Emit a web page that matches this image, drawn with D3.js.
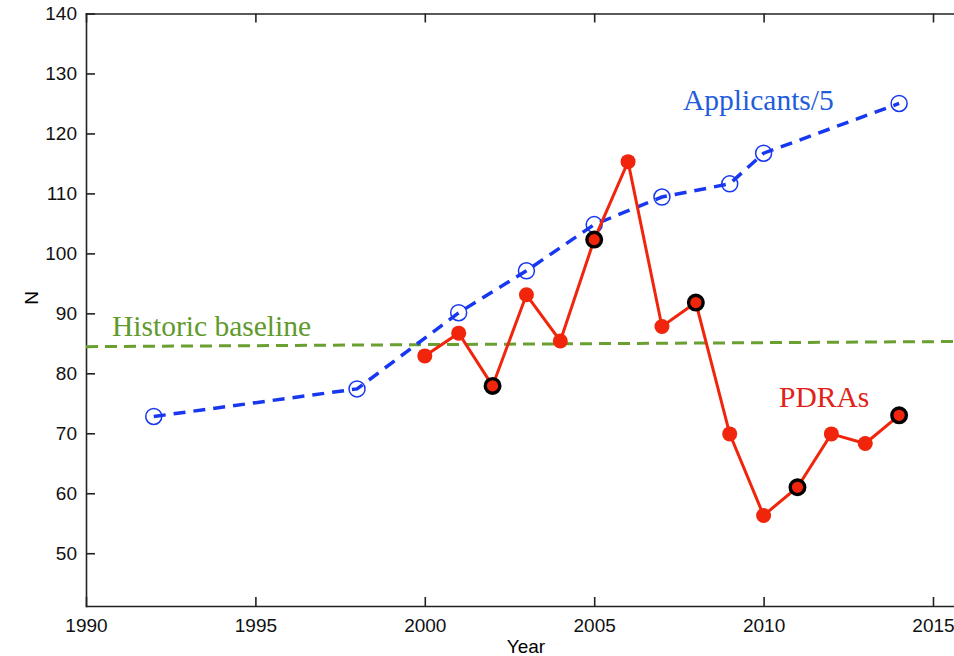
<!DOCTYPE html>
<html>
<head>
<meta charset="utf-8">
<script src="https://cdn.jsdelivr.net/npm/d3@7"></script>
<style>
  body { margin: 0; background: #fff; }
  .axis text { font-family: "Liberation Sans", Arial, sans-serif; font-size: 19px; fill: #111; }
  .axis path, .axis line { stroke: #222; stroke-width: 1.6; }
  .note { font-family: "Liberation Serif", "Times New Roman", serif; font-size: 29.5px; }
</style>
</head>
<body>
<div id="container"></div>
<script>
const width = 954;
const height = 656;

// Applicants divided by 5
const applicantYears = [1992, 1998, 2001, 2003, 2005, 2007, 2009, 2010, 2014];
const applicantValues = [72.8, 77.4, 90.1, 97.1, 104.8, 109.4, 111.6, 116.7, 125.0];

// PDRAs
const pdraYears = [2000, 2001, 2002, 2003, 2004, 2005, 2006, 2007, 2008, 2009, 2010, 2011, 2012, 2013, 2014];
const pdraValues = [82.9, 86.7, 77.9, 93.1, 85.4, 102.3, 115.3, 87.8, 91.8, 69.9, 56.3, 61.0, 69.9, 68.3, 73.0];
const pdraHighlighted = [2002, 2005, 2008, 2011, 2014];

// historic baseline, end points
const baselineYears = [1990, 2015.62];
const baselineValues = [84.45, 85.3];

const xTicks = [1990, 1995, 2000, 2005, 2010, 2015];
const yTicks = [50, 60, 70, 80, 90, 100, 110, 120, 130, 140];

const blue = "#1737f0";
const red = "#f0250c";
const green = "#6a9f32";

const x = d3.scaleLinear().domain([1990, 2015.62]).range([86, 954]);
const y = d3.scaleLinear().domain([41.2, 140]).range([606, 13.5]);

const svg = d3.select("#container")
  .append("svg")
  .attr("width", width)
  .attr("height", height);

// axes (ticks inward)
svg.append("g")
  .attr("class", "axis")
  .attr("transform", "translate(0,606)")
  .call(d3.axisBottom(x).tickValues(xTicks).tickFormat(d3.format("d")).tickSize(-9).tickSizeOuter(0).tickPadding(13));

svg.append("g")
  .attr("class", "axis")
  .attr("transform", "translate(0,13.5)")
  .call(d3.axisTop(x).tickValues(xTicks).tickFormat("").tickSize(-9).tickSizeOuter(0));

svg.append("g")
  .attr("class", "axis")
  .attr("transform", "translate(86,0)")
  .call(d3.axisLeft(y).tickValues(yTicks).tickSize(-9).tickSizeOuter(0).tickPadding(9));

svg.selectAll(".axis .domain").attr("stroke-linecap", "square");

// axis titles
svg.append("text")
  .attr("x", 526)
  .attr("y", 653)
  .attr("text-anchor", "middle")
  .style("font-family", "Liberation Sans, Arial, sans-serif")
  .style("font-size", "19px")
  .text("Year");

svg.append("text")
  .attr("transform", "translate(38,298) rotate(-90)")
  .attr("text-anchor", "middle")
  .style("font-family", "Liberation Sans, Arial, sans-serif")
  .style("font-size", "19px")
  .text("N");

// historic baseline
const line = d3.line().x((d) => x(d[0])).y((d) => y(d[1]));

svg.append("path")
  .datum(baselineYears.map((d, i) => [d, baselineValues[i]]))
  .attr("d", line)
  .attr("fill", "none")
  .attr("stroke", green)
  .attr("stroke-width", 3)
  .attr("stroke-dasharray", "12,7");

// applicants
const applicants = applicantYears.map((d, i) => [d, applicantValues[i]]);

svg.append("path")
  .datum(applicants)
  .attr("d", line)
  .attr("fill", "none")
  .attr("stroke", blue)
  .attr("stroke-width", 3.5)
  .attr("stroke-dasharray", "12,8");

svg.selectAll(".applicant")
  .data(applicants)
  .enter()
  .append("circle")
  .attr("class", "applicant")
  .attr("cx", (d) => x(d[0]))
  .attr("cy", (d) => y(d[1]))
  .attr("r", 8)
  .attr("fill", "none")
  .attr("stroke", blue)
  .attr("stroke-width", 1.5);

// PDRAs
const pdras = pdraYears.map((d, i) => [d, pdraValues[i]]);

svg.append("path")
  .datum(pdras)
  .attr("d", line)
  .attr("fill", "none")
  .attr("stroke", red)
  .attr("stroke-width", 3);

svg.selectAll(".pdra")
  .data(pdras)
  .enter()
  .append("circle")
  .attr("class", "pdra")
  .attr("cx", (d) => x(d[0]))
  .attr("cy", (d) => y(d[1]))
  .attr("r", (d) => pdraHighlighted.includes(d[0]) ? 7.3 : 7.5)
  .attr("fill", red)
  .attr("stroke", (d) => pdraHighlighted.includes(d[0]) ? "#000" : "none")
  .attr("stroke-width", 3.4);

// labels
svg.append("text")
  .attr("class", "note")
  .attr("x", 683)
  .attr("y", 110)
  .attr("fill", "#1f5ddb")
  .text("Applicants/5");

svg.append("text")
  .attr("class", "note")
  .attr("x", 112)
  .attr("y", 336)
  .attr("fill", "#5f9a2c")
  .text("Historic baseline");

svg.append("text")
  .attr("class", "note")
  .attr("x", 779)
  .attr("y", 407)
  .attr("fill", "#e0231a")
  .text("PDRAs");
</script>
</body>
</html>
